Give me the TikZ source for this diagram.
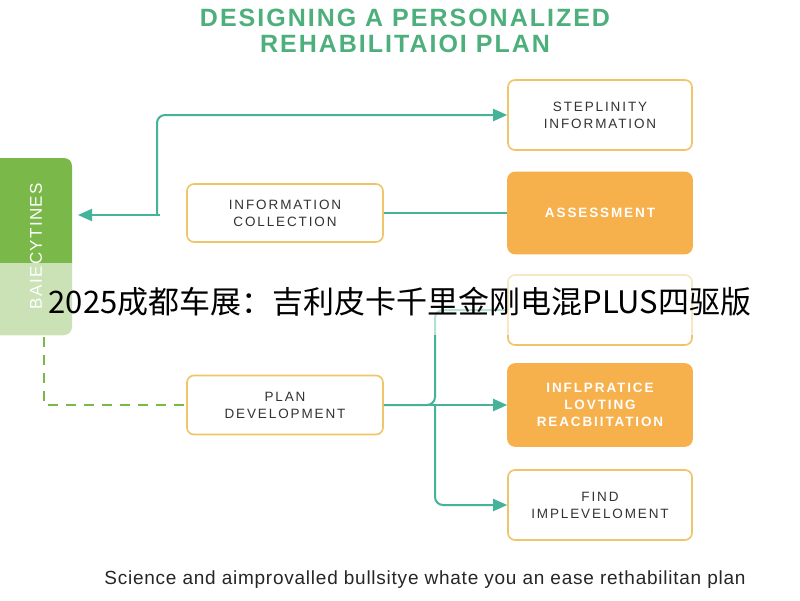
\documentclass[tikz,border=0pt]{standalone}
\usepackage{fontspec}
\setmainfont{Liberation Sans}
\newfontfamily\wide[LetterSpace=14]{Liberation Sans}
\newfontfamily\widet[LetterSpace=8]{Liberation Sans}
\newfontfamily\widef[LetterSpace=4]{Liberation Sans}
\newfontfamily\cjk{Noto Sans CJK SC}
\usetikzlibrary{arrows.meta,calc}
\definecolor{teal}{HTML}{45B29A}
\definecolor{ttl}{HTML}{4DAF7C}
\definecolor{orb}{HTML}{EFC56A}
\definecolor{orf}{HTML}{F6B04C}
\definecolor{grn}{HTML}{7BB84A}
\begin{document}
\begin{tikzpicture}[x=1pt,y=-1pt,
 box/.style={draw=orb,line width=1.6pt,rounded corners=7pt,fill=white,align=center,font=\wide\fontsize{13.5}{17}\selectfont,text=black!80,inner sep=0pt},
 obox/.style={box,fill=orf,draw=orf,text=white,font=\wide\bfseries\fontsize{13.5}{17}\selectfont},
 conn/.style={teal,line width=2pt,rounded corners=8pt},
 tip/.style={-{Triangle[length=14pt,width=12pt]}}]
\useasboundingbox (0,0) rectangle (800,600);
\fill[white] (0,0) rectangle (800,600);
\node[font=\widet\bfseries\fontsize{25}{26}\selectfont,text=ttl,align=center] (title) at (405,31) {DESIGNING A PERSONALIZED\\REHABILITAIOI PLAN};
\node[box,minimum width=184pt,minimum height=70pt] (step) at (600,115) {STEPLINITY\\INFORMATION};
\node[box,minimum width=196pt,minimum height=58pt] (info) at (285,213) {INFORMATION\\COLLECTION};
\node[obox,minimum width=184pt,minimum height=81pt] (ass) at (600,213) {ASSESSMENT};
\node[box,minimum width=184pt,minimum height=70pt] (hid) at (600,310) {};
\node[box,minimum width=196pt,minimum height=59pt] (plan) at (285,405) {PLAN\\DEVELOPMENT};
\node[obox,minimum width=184pt,minimum height=82pt] (infl) at (600,405) {INFLPRATICE\\LOVTING\\REACBIITATION};
\node[box,minimum width=184pt,minimum height=70pt] (find) at (600,505) {FIND\\IMPLEVELOMENT};
\fill[grn,rounded corners=8pt] (-10,158) rectangle (72,335);
\node[rotate=90,text=white,font=\widet\fontsize{17}{20}\selectfont] (bai) at (36,246) {BAIECYTINES};
\coordinate (gl) at (78,215);
\coordinate (gb) at (44,337);
\draw[conn,tip] (157,215) |- (step.west);
\draw[conn,tip] (160,215) -- (gl);
\draw[conn] (info.east) -- (ass.west);
\draw[conn] (plan.east) -- (435,405) |- (hid.west);
\draw[conn,tip] (plan.east) -- (infl.west);
\draw[conn,tip] (435,405) |- (find.west);
\draw[grn,line width=2pt,dash pattern=on 10pt off 8pt] (gb) |- (plan.west);
\node[font=\widef\fontsize{19}{22}\selectfont,text=black!85] (foot) at (425,580) {Science and aimprovalled bullsitye whate you an ease rethabilitan plan};
\fill[white,opacity=0.6] (0,263) rectangle (800,335);
\node[font=\cjk\fontsize{31}{34}\selectfont] (ov) at (400,302) {2025成都车展：吉利皮卡千里金刚电混PLUS四驱版};
\end{tikzpicture}
\end{document}
